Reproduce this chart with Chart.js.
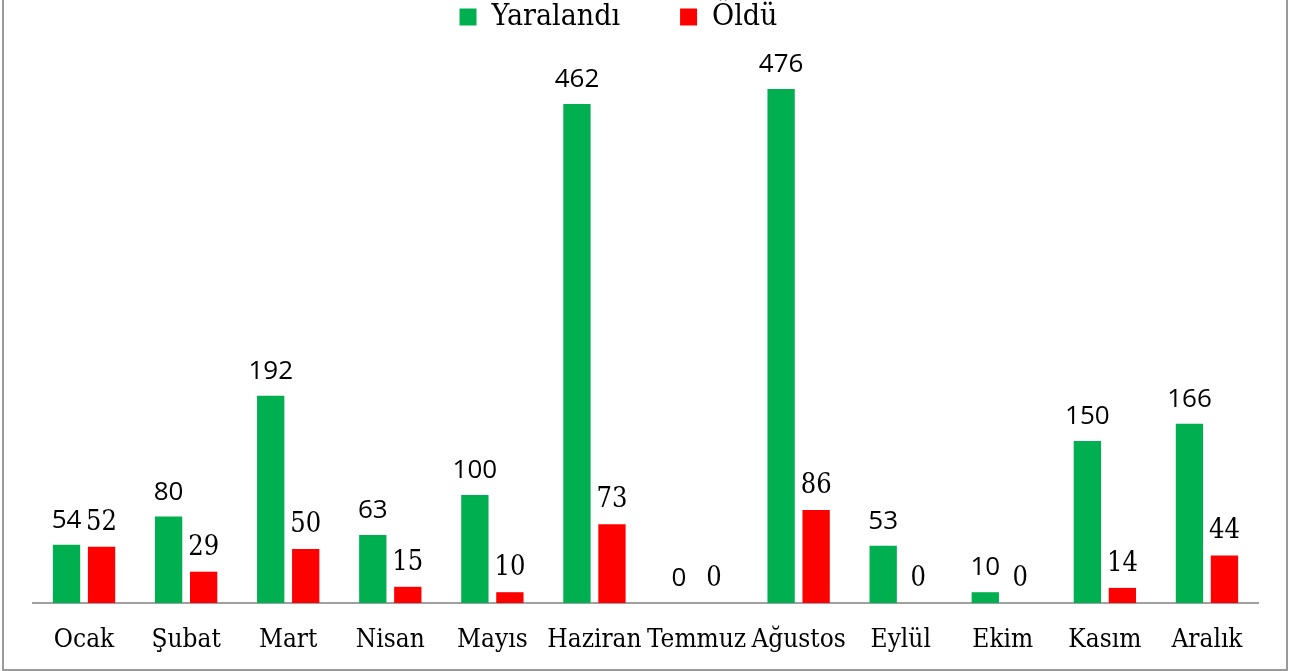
<!DOCTYPE html>
<html lang="tr">
<head>
<meta charset="UTF-8">
<title>Aylara göre</title>
<script src="https://cdn.jsdelivr.net/npm/chart.js"></script>
<style>
  html, body { margin: 0; padding: 0; background: #fff; overflow: hidden; }
  #wrap { position: relative; width: 1289px; height: 671px; }
  #frame { position: absolute; left: 2px; top: -5px; width: 1282px; height: 672px;
           border: 2px solid #9a9a9a; pointer-events: none; }
  canvas { position: absolute; left: 0; top: 0; }
</style>
</head>
<body>
<div id="wrap">
  <canvas id="myChart" width="1289" height="671"></canvas>
  <div id="frame"></div>
</div>
<script>
    var months = ['Ocak', 'Şubat', 'Mart', 'Nisan', 'Mayıs', 'Haziran', 'Temmuz', 'Ağustos', 'Eylül', 'Ekim', 'Kasım', 'Aralık'];
    var yaralandi = [54, 80, 192, 63, 100, 462, 0, 476, 53, 10, 150, 166];
    var oldu = [52, 29, 50, 15, 10, 73, 0, 86, 0, 0, 14, 44];

    var serif = '"DejaVu Serif Condensed", "DejaVu Serif", serif';

    // value labels over bars (green ones sans, red ones serif, like the original)
    var valueLabels = {
        id: 'valueLabels',
        afterDatasetsDraw(chart) {
            var ctx = chart.ctx;
            chart.data.datasets.forEach(function(ds, i) {
                var meta = chart.getDatasetMeta(i);
                ctx.save();
                ctx.fillStyle = '#000';
                ctx.textAlign = 'center';
                ctx.textBaseline = 'alphabetic';
                ctx.font = i === 0 ? '26px "Open Sans", sans-serif' : '27px ' + serif;
                meta.data.forEach(function(bar, j) {
                    ctx.fillText(ds.data[j], bar.x, bar.y - 17);
                });
                ctx.restore();
            });
        }
    };

    // fixed legend height so the plot top lands where it should, and nudge it left
    var legendFix = {
        id: 'legendFix',
        beforeLayout(chart) {
            var lg = chart.legend;
            if (lg && !lg._patched) {
                var orig = lg.fit;
                lg.fit = function() {
                    orig.call(this);
                    this.height = 121;
                };
                lg._patched = true;
            }
        },
        afterLayout(chart) {
            chart.legend.left -= 27;
            chart.legend.right -= 27;
        }
    };

    var ctx = document.getElementById('myChart');
    var chart = new Chart(ctx, {
        type: 'bar',
        data: {
            labels: months,
            datasets: [
                { label: 'Yaralandı', data: yaralandi, backgroundColor: '#00B050' },
                { label: 'Öldü', data: oldu, backgroundColor: '#FF0000' }
            ]
        },
        options: {
            responsive: false,
            animation: false,
            categoryPercentage: 0.686,
            barPercentage: 0.78,
            layout: { padding: { top: -58, left: 33, right: 31, bottom: 0 } },
            scales: {
                x: {
                    grid: { display: false, drawTicks: false },
                    border: { color: '#a0a0a0', width: 2 },
                    ticks: { color: '#000', padding: 22, maxRotation: 0, minRotation: 0, autoSkip: false,
                             font: { size: 26, family: serif } },
                    afterFit: function(s) { s.height = 68; }
                },
                y: {
                    display: false,
                    min: 0,
                    max: 500
                }
            },
            plugins: {
                legend: {
                    labels: {
                        boxWidth: 17,
                        boxHeight: 17,
                        padding: 60,
                        color: '#000',
                        font: { size: 30, family: serif }
                    }
                },
                tooltip: { enabled: false }
            }
        },
        plugins: [valueLabels, legendFix]
    });
</script>
</body>
</html>
